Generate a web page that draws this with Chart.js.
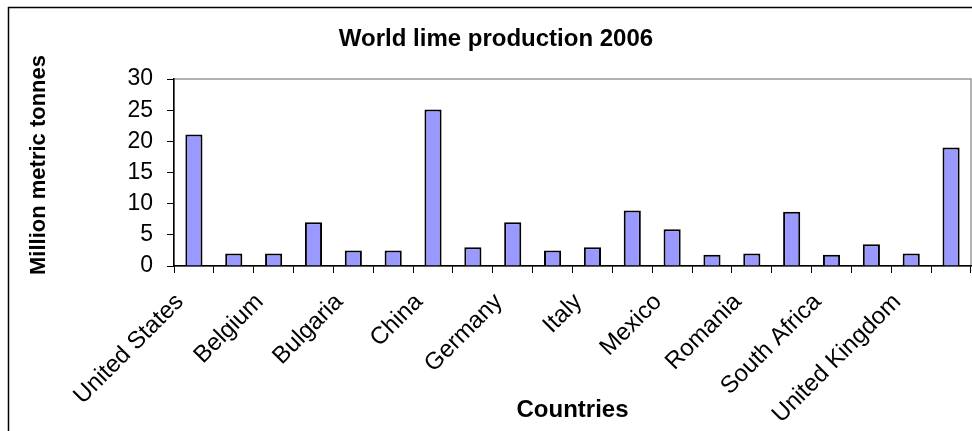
<!DOCTYPE html>
<html>
<head>
<meta charset="utf-8">
<title>World lime production 2006</title>
<script src="https://cdn.jsdelivr.net/npm/chart.js@4/dist/chart.umd.min.js"></script>
<style>
  html, body { margin: 0; padding: 0; background: #fff; }
  #wrap { width: 972px; height: 431px; }
</style>
</head>
<body>
<div id="wrap"><canvas id="chart" width="972" height="431"></canvas></div>
<script>
// Producing countries, in table order (every other name is printed on the axis)
const countries = [
  'United States', 'Australia', 'Belgium', 'Brazil', 'Bulgaria',
  'Canada', 'China', 'France', 'Germany', 'Iran',
  'Italy', 'Japan', 'Mexico', 'Poland', 'Romania',
  'Russia', 'South Africa', 'Turkey', 'United Kingdom', 'Other countries'
];
// Lime output, million metric tonnes
const production = [
  21.1, 2, 2, 7, 2.5,
  2.5, 25.1, 3, 7, 2.5,
  3, 8.9, 5.9, 1.8, 2,
  8.7, 1.8, 3.5, 2, 19
];
const yTicks = [0, 5, 10, 15, 20, 25, 30];
const yTitle = 'Million metric tonnes';

const FONT = '"Liberation Sans", Arial, Helvetica, sans-serif';

// White page, outer chart frame and grey plot-area frame
const frame = {
  id: 'frame',
  beforeDraw(chart) {
    const { ctx, chartArea: a } = chart;
    ctx.save();
    ctx.fillStyle = '#fff';
    ctx.fillRect(0, 0, chart.width, chart.height);
    ctx.strokeStyle = '#000';
    ctx.lineWidth = 1.5;
    ctx.beginPath();
    ctx.moveTo(8.5, chart.height + 2);
    ctx.lineTo(8.5, 7.5);
    ctx.lineTo(chart.width + 2, 7.5);
    ctx.stroke();
    ctx.strokeStyle = '#808080';
    ctx.lineWidth = 1.2;
    ctx.strokeRect(a.left, a.top, a.right - a.left, a.bottom - a.top);
    ctx.restore();
  }
};

// Vertical value-axis caption, set a little above the plot's mid-height
const valueCaption = {
  id: 'valueCaption',
  afterDraw(chart) {
    const { ctx } = chart;
    ctx.save();
    ctx.translate(39, 165);
    ctx.rotate(-Math.PI / 2);
    ctx.fillStyle = '#000';
    ctx.font = 'bold 22px ' + FONT;
    ctx.textAlign = 'center';
    ctx.textBaseline = 'middle';
    ctx.fillText(yTitle, 0, 0);
    ctx.restore();
  }
};

new Chart(document.getElementById('chart'), {
  type: 'bar',
  data: {
    labels: countries,
    datasets: [{
      data: production,
      backgroundColor: '#9999FF',
      borderColor: '#000',
      borderWidth: 2,
      barPercentage: 0.43,
      categoryPercentage: 1
    }]
  },
  options: {
    responsive: false,
    animation: false,
    layout: { padding: { left: 21, right: 1, top: 0, bottom: 0 } },
    plugins: {
      legend: { display: false },
      tooltip: { enabled: false },
      title: {
        display: true,
        text: 'World lime production 2006',
        color: '#000',
        font: { family: FONT, size: 24, weight: 'bold' },
        padding: { top: 24.6, bottom: 25.6 }
      }
    },
    scales: {
      x: {
        afterFit(scale) {
          scale.height = 165;
          scale.paddingLeft = 0;
          scale.paddingRight = 0;
        },
        grid: {
          offset: true,
          drawOnChartArea: false,
          drawTicks: true,
          tickLength: 7,
          tickColor: '#000',
          tickWidth: 1
        },
        border: { display: true, color: '#000', width: 1.5 },
        ticks: {
          autoSkip: false,
          minRotation: 45,
          maxRotation: 45,
          padding: 15,
          labelOffset: -14,
          color: '#000',
          font: { family: FONT, size: 24 },
          callback(value, index) {
            return index % 2 === 0 ? countries[index] : '';
          }
        },
        title: {
          display: true,
          text: 'Countries',
          color: '#000',
          font: { family: FONT, size: 24, weight: 'bold' },
          padding: { top: 0, bottom: 6.6 }
        }
      },
      y: {
        min: 0,
        max: 30,
        afterFit(scale) {
          scale.width = 153;
          scale.paddingTop = 0;
          scale.paddingBottom = 0;
        },
        afterBuildTicks(scale) { scale.ticks = yTicks.map(v => ({ value: v })); },
        grid: {
          drawOnChartArea: false,
          drawTicks: true,
          tickLength: 7,
          tickColor: '#000',
          tickWidth: 1
        },
        border: { display: true, color: '#000', width: 1.5 },
        ticks: {
          padding: 14,
          color: '#000',
          font: { family: FONT, size: 23 }
        },
        title: { display: false }
      }
    }
  },
  plugins: [frame, valueCaption]
});
</script>
</body>
</html>
